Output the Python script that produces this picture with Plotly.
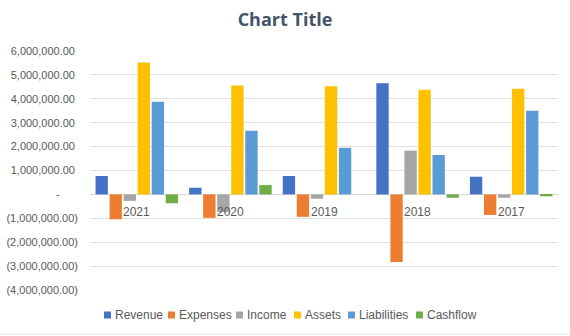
import plotly.graph_objects as go

years = ["2021", "2020", "2019", "2018", "2017"]
revenue = [770000, 280000, 770000, 4650000, 740000]
expenses = [-1040000, -980000, -940000, -2830000, -860000]
income = [-270000, -740000, -180000, 1830000, -140000]
assets = [5520000, 4560000, 4520000, 4380000, 4420000]
liabilities = [3880000, 2660000, 1950000, 1650000, 3500000]
cashflow = [-370000, 390000, 0, -140000, -80000]

series_names = ["Revenue", "Expenses", "Income", "Assets", "Liabilities", "Cashflow"]
series_values = [revenue, expenses, income, assets, liabilities, cashflow]
colors = ["#4472C4", "#ED7D31", "#A5A5A5", "#FFC000", "#5B9BD5", "#70AD47"]

tick_vals = [6e6, 5e6, 4e6, 3e6, 2e6, 1e6, 0, -1e6, -2e6, -3e6, -4e6]
tick_text = ["6,000,000.00\u00a0", "5,000,000.00\u00a0", "4,000,000.00\u00a0", "3,000,000.00\u00a0",
             "2,000,000.00\u00a0", "1,000,000.00\u00a0", "-\u00a0\u00a0\u00a0\u00a0\u00a0\u00a0",
             "(1,000,000.00)", "(2,000,000.00)", "(3,000,000.00)", "(4,000,000.00)"]

FONT = "Liberation Sans"
W, H = 570, 336
L, R, T, B = 90, 12, 51, 46
PW, PH = W - L - R, H - T - B

def px_x(x):
    return (x - L) / PW

def px_y(y):
    return (H - B - y) / PH

fig = go.Figure()
for name, vals, c in zip(series_names, series_values, colors):
    fig.add_trace(go.Bar(x=years, y=vals, name=name, marker=dict(color=c, line=dict(width=0)),
                         showlegend=False))

for i, yr in enumerate(years):
    fig.add_annotation(x=i, y=0, xref="x", yref="y", text=yr, showarrow=False,
                       yanchor="top", yshift=-9, font=dict(family=FONT, size=12, color="#595959"))

# custom legend
leg_x = [104, 168, 236, 294, 348, 416]
leg_y = 315
for name, c, lx in zip(series_names, colors, leg_x):
    fig.add_shape(type="rect", xref="paper", yref="paper", x0=px_x(lx), x1=px_x(lx + 7),
                  y0=px_y(leg_y + 3.5), y1=px_y(leg_y - 3.5), fillcolor=c, line=dict(width=0))
    fig.add_annotation(x=px_x(lx + 9), y=px_y(leg_y), xref="paper", yref="paper", text=name,
                       showarrow=False, xanchor="left", yanchor="middle",
                       font=dict(family=FONT, size=12, color="#595959"))

fig.add_shape(type="line", xref="paper", yref="paper", x0=px_x(0), x1=px_x(W),
              y0=px_y(334), y1=px_y(334), line=dict(color="#E4E4E4", width=1))

fig.update_layout(
    width=W, height=H,
    margin=dict(l=L, r=R, t=T, b=B, autoexpand=False),
    paper_bgcolor="white", plot_bgcolor="white",
    title=dict(text="<b>Chart Title</b>", x=0.5, xref="container", y=1 - 20/336, yanchor="middle",
               font=dict(family="Open Sans", size=18, color="#44546A")),
    barmode="group", bargap=0.1, bargroupgap=0.12,
    xaxis=dict(type="category", range=[-0.5, len(years) - 0.5], showticklabels=False,
               showgrid=False, zeroline=False, showline=False, ticks="", automargin=False),
    yaxis=dict(range=[-4e6, 6e6], tickvals=tick_vals, ticktext=tick_text, showgrid=True,
               gridcolor="#E0E0E0", gridwidth=1, zeroline=True, zerolinecolor="#D9D9D9", zerolinewidth=1,
               tickfont=dict(family=FONT, size=11, color="#595959"), ticks="", ticklabelstandoff=11,
               automargin=False),
    showlegend=False,
)
fig.write_html("out.html")
